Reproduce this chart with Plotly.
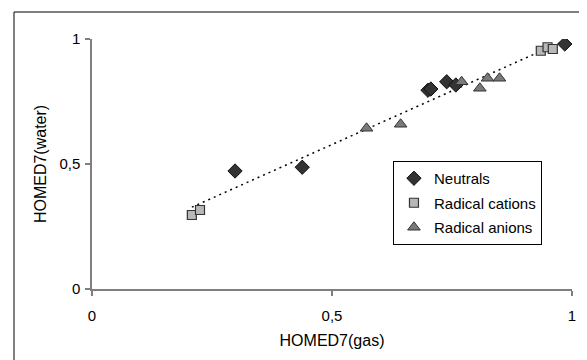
import numpy as np
import plotly.graph_objects as go

# Data
neutrals_x = [0.298, 0.438, 0.700, 0.706, 0.739, 0.758, 0.985]
neutrals_y = [0.472, 0.487, 0.795, 0.800, 0.829, 0.816, 0.980]

cations_x = [0.208, 0.225, 0.935, 0.949, 0.960]
cations_y = [0.296, 0.316, 0.953, 0.967, 0.960]

anions_x = [0.572, 0.643, 0.770, 0.808, 0.824, 0.849]
anions_y = [0.643, 0.659, 0.829, 0.803, 0.843, 0.843]

tick_vals = [0, 0.5, 1]
tick_text = ["0", "0,5", "1"]

x_title = "HOMED7(gas)"
y_title = "HOMED7(water)"

FONT = "Liberation Sans, Arial, sans-serif"

# linear trend line over all points
all_x = np.array(neutrals_x + cations_x + anions_x)
all_y = np.array(neutrals_y + cations_y + anions_y)
slope, intercept = np.polyfit(all_x, all_y, 1)
trend_x = np.array([all_x.min(), all_x.max()])
trend_y = slope * trend_x + intercept

fig = go.Figure()

fig.add_trace(go.Scatter(
    x=trend_x, y=trend_y, mode="lines",
    line=dict(color="black", width=1.5, dash="2px,4px"),
    showlegend=False, hoverinfo="skip"))

fig.add_trace(go.Scatter(
    x=neutrals_x, y=neutrals_y, mode="markers", name="Neutrals",
    legendgroup="n",
    marker=dict(symbol="diamond", size=11, color="#333333",
                line=dict(color="#111111", width=1))))

fig.add_trace(go.Scatter(
    x=cations_x, y=cations_y, mode="markers", name="Radical cations",
    legendgroup="c",
    marker=dict(symbol="square", size=9, color="#b8b8b8",
                line=dict(color="#333333", width=1.2))))

fig.add_trace(go.Scatter(
    x=anions_x, y=anions_y, mode="markers", name="Radical anions",
    legendgroup="a",
    marker=dict(symbol="triangle-up", size=11, color="#7a7a7a",
                line=dict(color="#333333", width=1))))

axis_common = dict(
    range=[0, 1], tickvals=tick_vals, ticktext=tick_text,
    showgrid=False, zeroline=False, showline=True,
    linecolor="#7f7f7f", linewidth=1.5,
    ticks="outside", ticklen=5, tickcolor="#7f7f7f", tickwidth=1.5,
    tickfont=dict(family=FONT, size=15, color="black"),
)

# page body has an 8px margin, so the figure is 8px smaller than the window
fig.update_layout(
    width=579, height=352,
    margin=dict(l=84, r=15, t=31, b=71, autoexpand=False),
    paper_bgcolor="white", plot_bgcolor="white",
    font=dict(family=FONT, size=15, color="black"),
    xaxis=dict(**axis_common, ticklabelstandoff=7,
               title=dict(text=x_title, standoff=12,
                          font=dict(family=FONT, size=16, color="black"))),
    yaxis=dict(**axis_common, ticklabelstandoff=2,
               title=dict(text=y_title, standoff=9,
                          font=dict(family=FONT, size=16, color="black"))),
    legend=dict(x=0.627, y=0.512, xanchor="left", yanchor="top",
                bordercolor="black", borderwidth=1, bgcolor="white",
                font=dict(family=FONT, size=15, color="black"),
                tracegroupgap=2, itemwidth=30),
    shapes=[dict(type="rect", xref="paper", yref="paper",
                 x0=-0.1625, x1=1.04, y0=-0.31, y1=1.108,
                 line=dict(color="black", width=1), layer="below")],
)

fig.write_html("out.html")
